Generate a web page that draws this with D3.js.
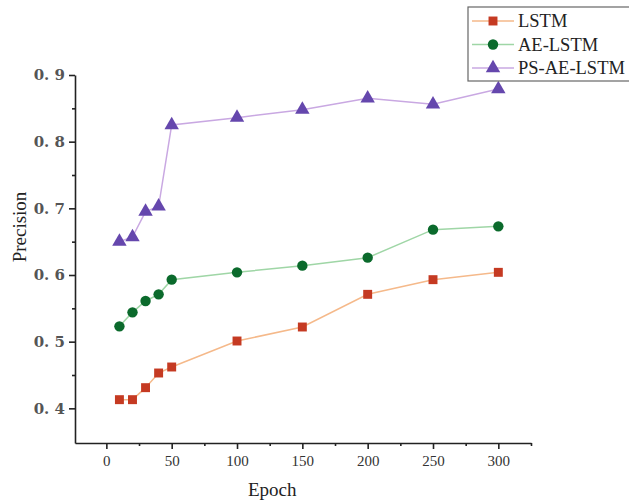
<!DOCTYPE html>
<meta charset="utf-8">
<script src="https://d3js.org/d3.v7.min.js"></script>
<style>
  body { margin: 0; background: #fff; }
  svg { font-family: "Liberation Serif", "DejaVu Serif", serif; }
</style>
<div id="my_dataviz"></div>
<script>
// epochs
var epochs = [10, 20, 30, 40, 50, 100, 150, 200, 250, 300];

// series values
var lstm     = [0.413, 0.413, 0.431, 0.453, 0.462, 0.501, 0.522, 0.571, 0.593, 0.604];
var aeLstm   = [0.523, 0.544, 0.561, 0.571, 0.593, 0.604, 0.614, 0.626, 0.668, 0.673];
var psAeLstm = [0.650, 0.657, 0.695, 0.703, 0.825, 0.836, 0.848, 0.865, 0.856, 0.879];

// tick labels
var xTicks = [0, 50, 100, 150, 200, 250, 300];
var yTicks = [0.4, 0.5, 0.6, 0.7, 0.8, 0.9];
var yTickLabels = ["0. 4", "0. 5", "0. 6", "0. 7", "0. 8", "0. 9"];

var seriesNames = ["LSTM", "AE-LSTM", "PS-AE-LSTM"];

var margin = {top: 75, right: 98, bottom: 57, left: 75},
    width = 629 - margin.left - margin.right,
    height = 500 - margin.top - margin.bottom;

var svg = d3.select("#my_dataviz")
  .append("svg")
    .attr("width", 629)
    .attr("height", 500)
  .append("g")
    .attr("transform", "translate(" + margin.left + "," + margin.top + ")");

var x = d3.scaleLinear().domain([-24, 325]).range([0, width]);
var y = d3.scaleLinear().domain([0.348, 0.9]).range([height, 0]);

// X axis
var xAxis = svg.append("g")
  .attr("transform", "translate(0," + height + ")")
  .call(d3.axisBottom(x).tickValues(xTicks).tickSize(6).tickSizeOuter(0).tickPadding(6));
svg.append("g")
  .attr("transform", "translate(0," + height + ")")
  .call(d3.axisBottom(x).tickValues([25, 75, 125, 175, 225, 275, 325]).tickSize(3).tickFormat(""))
  .select(".domain").remove();

// Y axis
var yAxis = svg.append("g")
  .call(d3.axisLeft(y).tickValues(yTicks).tickSize(6).tickSizeOuter(0).tickPadding(4)
    .tickFormat(function(d, i) { return yTickLabels[i]; }));
svg.append("g")
  .call(d3.axisLeft(y).tickValues([0.45, 0.55, 0.65, 0.75, 0.85]).tickSize(3).tickFormat(""))
  .select(".domain").remove();

svg.selectAll(".domain").attr("stroke", "#222").attr("stroke-width", 1.6);
svg.selectAll(".tick line").attr("stroke", "#222").attr("stroke-width", 1.6);
xAxis.attr("font-family", "'Liberation Serif', serif");
yAxis.attr("font-family", "'DejaVu Serif', serif");
xAxis.selectAll("text").style("font-size", "15px").attr("fill", "#333");
yAxis.selectAll("text").style("font-size", "15px")
  .attr("fill", "#555").style("font-weight", "bold");

// axis titles
svg.append("text")
  .attr("x", x(127)).attr("y", height + 53)
  .attr("text-anchor", "middle")
  .style("font-size", "19px").attr("fill", "#222")
  .text("Epoch");
svg.append("text")
  .attr("transform", "translate(-49," + (height / 2 - 32) + ")rotate(-90)")
  .attr("text-anchor", "middle")
  .style("font-size", "19px").attr("fill", "#222")
  .text("Precision");

var series = [
  {name: seriesNames[0], values: lstm, line: "#f5b98a", fill: "#c53a22", shape: d3.symbolSquare, size: 80},
  {name: seriesNames[1], values: aeLstm, line: "#9fd6a6", fill: "#0b6a2c", shape: d3.symbolCircle, size: 85},
  {name: seriesNames[2], values: psAeLstm, line: "#c9a8e2", fill: "#6547ad", shape: d3.symbolTriangle, size: 90}
];

var line = d3.line()
  .x(function(d, i) { return x(epochs[i]); })
  .y(function(d) { return y(d); });

series.forEach(function(s) {
  svg.append("path")
    .datum(s.values)
    .attr("fill", "none")
    .attr("stroke", s.line)
    .attr("stroke-width", 1.5)
    .attr("d", line);
  svg.selectAll(null)
    .data(s.values)
    .enter()
    .append("path")
      .attr("transform", function(d, i) { return "translate(" + x(epochs[i]) + "," + y(d) + ")"; })
      .attr("d", d3.symbol().type(s.shape).size(s.size))
      .attr("fill", s.fill);
});

// legend
var legend = d3.select("svg").append("g").attr("transform", "translate(468,7)");
legend.append("rect")
  .attr("x", 0).attr("y", 0).attr("width", 170).attr("height", 74)
  .attr("fill", "#fff").attr("stroke", "#666").attr("stroke-width", 1.2);
series.forEach(function(s, i) {
  var g = legend.append("g").attr("transform", "translate(0," + (14 + i * 23.5) + ")");
  g.append("line").attr("x1", 4).attr("x2", 46).attr("y1", 0).attr("y2", 0)
    .attr("stroke", s.line).attr("stroke-width", 1.5);
  g.append("path").attr("transform", "translate(25,0)")
    .attr("d", d3.symbol().type(s.shape).size(s.size)).attr("fill", s.fill);
  g.append("text").attr("x", 50).attr("y", 6)
    .style("font-size", "18.5px").attr("fill", "#222")
    .text(s.name);
});
</script>
